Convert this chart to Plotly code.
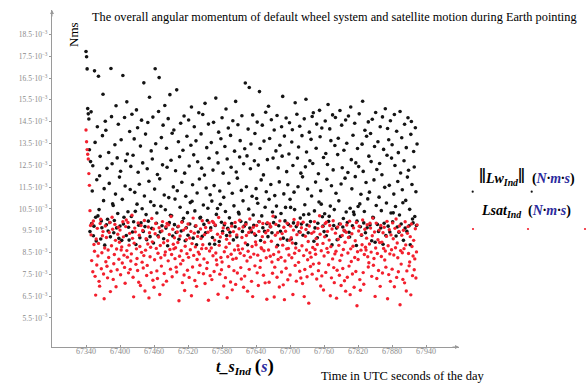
import plotly.graph_objects as go

# ---- data (values in units of 1e-3 N*m*s), one sample per second ----
t_start = 67340

lw_e3 = [
    17.72, 17.48, 16.92, 15.10, 14.86, 14.62, 13.21, 9.46, 12.67, 14.95, 9.83, 11.32, 12.48, 9.27, 9.71, 16.83, 13.55, 10.12, 9.03, 11.84,
    14.27, 10.18, 16.58, 10.47, 12.02, 12.91, 9.12, 9.95, 9.64, 13.86, 15.76, 10.88, 11.43, 8.84, 14.52, 14.11, 9.77, 12.36, 10.03, 9.49,
    13.09, 11.67, 9.88, 9.22, 16.94, 14.73, 12.57, 10.74, 10.66, 9.41, 9.97, 13.44, 11.18, 15.23, 9.63, 12.84, 10.29, 14.38, 9.15, 11.96,
    9.72, 12.23, 13.67, 9.06, 10.94, 16.62, 9.81, 10.12, 14.69, 11.55, 12.71, 9.28, 15.41, 13.02, 10.37, 9.66, 9.07, 14.05, 11.39, 12.45,
    10.15, 14.84, 9.44, 12.96, 9.91, 13.71, 11.26, 10.39, 8.87, 15.04, 10.72, 14.22, 12.18, 9.75, 11.63, 9.18, 13.38, 9.86, 14.57, 10.51,
    12.61, 9.47, 16.28, 11.09, 9.69, 13.93, 10.24, 9.09, 12.34, 14.46, 9.94, 11.77, 15.62, 9.23, 10.83, 13.16, 9.61, 12.79, 14.71, 8.94,
    10.66, 11.41, 16.93, 13.49, 9.84, 10.31, 12.08, 9.27, 14.97, 16.52, 11.88, 9.45, 10.62, 13.77, 9.73, 12.52, 14.34, 9.13, 11.14, 15.24,
    10.46, 9.62, 13.28, 12.41, 8.81, 14.64, 11.02, 9.87, 15.74, 10.21, 12.73, 10.19, 13.97, 9.26, 11.51, 14.12, 9.78, 10.95, 12.25, 9.42,
    15.96, 11.33, 9.68, 13.58, 9.11, 12.89, 10.58, 14.43, 9.49, 11.72, 9.92, 13.19, 10.07, 14.76, 12.14, 9.04, 11.08, 9.64, 13.83, 10.33,
    9.29, 14.58, 12.47, 9.81, 10.79, 13.42, 15.17, 10.85, 11.61, 9.16, 12.98, 14.27, 10.41, 9.71, 13.62, 8.86, 11.23, 12.66, 9.44, 14.91,
    11.87, 10.08, 10.12, 13.94, 12.37, 9.24, 14.83, 10.68, 9.79, 12.05, 15.34, 9.41, 11.46, 13.31, 9.97, 10.53, 14.39, 12.82, 8.89, 11.15,
    9.63, 13.54, 10.86, 9.19, 12.28, 14.47, 11.57, 8.88, 9.74, 15.58, 10.25, 13.07, 10.52, 12.61, 14.02, 9.01, 11.32, 10.71, 13.72, 9.89,
    14.68, 9.46, 12.14, 11.03, 9.77, 13.36, 10.38, 15.08, 9.28, 12.79, 9.61, 14.21, 11.68, 10.09, 9.43, 13.87, 12.41, 9.83, 11.22, 14.54,
    9.08, 10.64, 13.15, 9.68, 15.43, 12.19, 9.21, 11.91, 14.36, 10.34, 10.27, 12.88, 13.63, 9.93, 11.35, 14.77, 9.47, 10.87, 12.57, 9.71,
    13.26, 16.27, 9.86, 11.52, 12.93, 8.86, 14.16, 10.49, 16.07, 9.62, 12.34, 13.48, 9.44, 11.08, 14.81, 10.22, 9.75, 12.71, 13.96, 9.29,
    11.43, 10.98, 14.48, 10.76, 12.51, 9.91, 15.88, 13.27, 9.05, 11.83, 10.18, 14.34, 9.64, 12.06, 13.61, 9.47, 10.58, 14.93, 11.29, 9.82,
    12.76, 9.23, 15.21, 10.94, 13.73, 9.68, 11.62, 14.59, 9.41, 10.36, 12.83, 9.87, 14.12, 11.11, 10.13, 13.16, 10.63, 14.78, 8.83, 12.38,
    9.73, 11.74, 13.42, 9.48, 10.29, 14.27, 12.92, 15.66, 9.16, 11.19, 13.84, 9.95, 10.57, 14.67, 12.21, 9.07, 11.61, 9.79, 13.02, 14.45,
    10.94, 10.57, 9.12, 13.57, 14.13, 12.49, 9.86, 11.27, 10.47, 15.37, 8.91, 9.69, 14.84, 12.83, 11.52, 13.34, 9.45, 14.29, 10.08, 12.14,
    9.81, 13.86, 11.97, 9.29, 10.23, 14.63, 10.69, 12.43, 15.53, 13.11, 9.76, 11.41, 9.41, 10.26, 14.02, 12.71, 9.92, 13.69, 11.09, 14.74,
    12.58, 14.91, 9.02, 10.41, 9.63, 11.73, 13.28, 14.39, 9.18, 9.84, 12.11, 10.82, 15.02, 13.81, 11.33, 10.72, 14.21, 10.14, 9.71, 12.86,
    9.46, 10.28, 14.53, 13.04, 9.27, 11.86, 12.54, 15.29, 9.93, 10.16, 14.17, 10.63, 13.63, 11.56, 8.85, 14.81, 12.29, 9.74, 10.47, 13.41,
    14.69, 11.22, 9.62, 9.09, 12.99, 13.74, 10.87, 9.81, 15.01, 9.24, 11.64, 14.34, 12.39, 9.67, 10.06, 13.19, 9.49, 11.91, 14.58, 10.36,
    13.51, 9.88, 12.17, 14.76, 9.43, 9.21, 10.53, 15.17, 12.76, 11.42, 9.73, 13.88, 10.36, 10.24, 14.43, 11.98, 12.61, 8.82, 9.94, 13.27,
    10.61, 12.44, 14.86, 10.73, 9.68, 11.17, 9.29, 13.47, 15.44, 12.22, 9.86, 10.38, 14.11, 9.41, 11.71, 13.83, 9.64, 10.96, 14.49, 12.92,
    11.27, 9.76, 13.96, 12.67, 9.04, 14.61, 10.12, 10.09, 11.83, 13.36, 8.97, 14.92, 10.66, 12.31, 9.79, 13.58, 9.47, 11.04, 12.58, 14.27,
    9.63, 10.42, 12.07, 14.72, 8.88, 13.23, 9.84, 11.49, 15.09, 9.28, 10.77, 12.96, 14.19, 9.71, 13.67, 11.58, 9.44, 14.54, 10.31, 12.83,
    13.44, 9.91, 10.32, 11.18, 14.83, 12.49, 10.61, 9.26, 14.06, 9.67, 11.76, 13.08, 9.43, 10.22, 14.97, 12.15, 9.81, 13.76, 11.38, 10.78,
    9.06, 12.71, 14.38, 9.62, 10.89, 13.31, 9.47, 11.96, 14.68, 12.27, 9.73, 10.48, 8.86, 13.92, 14.51, 11.62, 10.04, 9.86, 13.13, 12.42,
    10.15, 14.22, 11.29, 9.74, 13.48,
]

lsat_e3 = [
    14.12, 13.58, 13.22, 13.01, 12.79, 12.12, 11.58, 10.42, 9.74, 9.31, 8.13, 9.82, 7.62, 9.95, 8.87, 8.56, 7.41, 6.55, 9.12, 7.93,
    9.61, 8.34, 8.92, 7.18, 6.96, 9.83, 10.03, 7.76, 8.49, 9.27, 9.46, 7.52, 6.38, 8.71, 9.72, 8.08, 9.19, 7.87, 7.34, 8.62,
    8.27, 9.42, 9.88, 6.71, 7.64, 8.81, 10.12, 9.57, 7.27, 7.99, 8.41, 9.79, 9.06, 6.93, 8.66, 7.71, 9.34, 9.66, 8.19, 8.97,
    9.53, 7.48, 8.62, 8.76, 8.02, 9.91, 9.22, 8.38, 7.82, 7.09, 9.69, 9.99, 8.59, 8.29, 9.88, 7.57, 8.84, 9.38, 7.73, 8.11,
    8.44, 10.21, 9.15, 7.37, 6.47, 8.93, 9.62, 9.45, 7.96, 8.67, 8.23, 7.68, 9.86, 7.14, 9.29, 8.78, 6.99, 9.74, 8.51, 8.06,
    9.51, 7.79, 8.36, 9.97, 6.74, 8.61, 9.13, 7.45, 7.91, 8.89, 9.67, 6.42, 9.41, 8.31, 8.74, 7.58, 10.06, 8.99, 7.23, 9.58,
    6.91, 8.17, 9.36, 9.83, 8.69, 7.66, 7.31, 8.47, 9.21, 9.64, 6.58, 8.82, 8.26, 7.88, 9.49, 9.92, 7.02, 8.95, 7.54, 8.39,
    8.53, 9.69, 7.19, 9.83, 9.04, 8.12, 9.77, 9.33, 8.64, 7.74, 10.15, 8.41, 7.39, 9.57, 8.88, 8.67, 9.18, 8.22, 8.72, 7.83,
    7.61, 9.44, 8.96, 9.71, 6.29, 8.33, 9.26, 7.98, 8.58, 9.89, 7.12, 8.14, 9.53, 7.47, 6.76, 8.79, 9.62, 9.09, 8.45, 7.69,
    9.81, 8.28, 7.36, 9.17, 8.63, 9.47, 6.52, 8.91, 7.84, 10.08, 8.37, 9.39, 7.22, 8.76, 9.73, 6.95, 8.18, 9.24, 8.52, 7.58,
    8.43, 7.92, 9.58, 9.14, 8.68, 9.96, 8.86, 7.53, 8.21, 9.32, 7.08, 9.65, 8.69, 7.77, 8.04, 9.43, 6.31, 9.87, 8.57, 7.44,
    9.52, 8.71, 7.26, 9.93, 8.35, 9.87, 7.63, 9.07, 9.76, 8.48, 8.16, 7.94, 9.34, 6.59, 10.11, 8.83, 7.51, 9.21, 8.27, 7.71,
    8.07, 9.38, 9.63, 6.97, 8.54, 9.84, 7.35, 8.74, 9.11, 6.43, 8.31, 9.55, 7.86, 8.92, 9.27, 7.15, 8.42, 9.71, 6.79, 8.19,
    9.46, 7.67, 8.62, 9.88, 7.04, 8.24, 9.31, 7.56, 8.81, 8.63, 9.59, 9.98, 8.47, 7.81, 7.29, 9.19, 8.67, 9.67, 6.91, 8.36,
    7.42, 8.94, 9.79, 9.28, 8.11, 6.73, 8.56, 9.42, 7.73, 10.04, 8.29, 9.53, 7.18, 8.78, 6.48, 9.66, 8.43, 9.36, 7.89, 8.99,
    8.86, 9.74, 7.57, 8.38, 6.99, 9.47, 9.92, 7.82, 8.13, 8.72, 8.67, 9.23, 9.83, 7.46, 8.58, 8.97, 7.11, 9.41, 8.26, 6.36,
    9.87, 9.51, 8.62, 7.14, 9.81, 8.33, 9.68, 9.02, 8.07, 7.55, 10.17, 8.41, 6.46, 7.83, 9.29, 9.79, 8.76, 7.37, 9.41, 8.18,
    8.53, 6.92, 9.95, 9.12, 8.28, 7.61, 9.37, 8.84, 7.02, 9.66, 6.34, 8.11, 9.48, 7.78, 8.67, 9.84, 7.25, 8.69, 8.39, 9.06,
    7.47, 9.71, 9.18, 8.26, 8.94, 6.58, 9.53, 10.02, 8.47, 7.91, 8.71, 7.19, 9.32, 9.77, 9.87, 8.05, 8.59, 7.64, 9.43, 7.33,
    9.64, 8.81, 7.08, 9.89, 8.36, 6.48, 7.72, 9.25, 9.56, 8.62, 7.39, 8.17, 9.01, 6.18, 9.72, 8.49, 7.86, 8.29, 9.38, 7.51,
    8.73, 7.97, 9.45, 9.92, 8.64, 8.42, 9.14, 7.29, 8.87, 9.61, 7.67, 8.01, 10.19, 9.34, 6.97, 8.58, 7.43, 9.69, 8.92, 6.78,
    8.34, 9.22, 9.83, 7.59, 9.89, 8.69, 9.47, 8.51, 7.94, 9.07, 9.74, 6.52, 8.77, 7.34, 9.58, 8.21, 9.96, 7.81, 7.12, 8.44,
    9.39, 8.56, 6.41, 7.69, 9.67, 9.11, 8.83, 7.46, 8.13, 9.81, 6.99, 8.38, 9.28, 7.77, 8.64, 9.52, 7.21, 8.97, 6.73, 9.43,
    9.76, 7.37, 8.48, 9.19, 7.88, 9.94, 6.57, 8.67, 8.09, 9.36, 7.52, 8.79, 9.63, 6.91, 8.27, 9.04, 7.63, 9.88, 6.06, 8.54,
    8.18, 9.49, 9.71, 7.26, 6.77, 8.61, 9.32, 8.86, 9.99, 7.58, 7.05, 8.41, 9.57, 8.74, 8.62, 9.16, 9.78, 8.31, 7.84, 8.03,
    8.89, 9.84, 9.62, 8.52, 7.41, 9.27, 10.08, 7.92, 8.23, 9.44, 6.49, 8.71, 9.85, 7.31, 8.46, 9.09, 7.68, 9.53, 8.96, 6.95,
    9.74, 8.32, 8.98, 7.56, 9.41, 8.69, 9.66, 8.16, 8.57, 7.83, 9.24, 9.93, 6.38, 8.81, 7.49, 9.55, 8.44, 7.18, 9.31, 8.63,
    7.74, 9.86, 9.13, 8.39, 6.93, 9.61, 8.72, 10.04, 7.36, 8.94, 8.26, 7.62, 9.47, 9.72, 6.11, 8.59, 7.97, 9.29, 8.49, 7.27,
    9.52, 8.68, 7.11, 9.91, 8.85, 6.74, 7.66, 9.38, 9.69, 8.46, 7.89, 8.07, 9.23, 6.56, 9.81, 8.78, 7.44, 8.34, 9.06, 7.71,
    8.21, 9.59, 7.33, 8.53, 9.77,
]

t_lw = [t_start + i for i in range(len(lw_e3))]
t_lsat = [t_start + i for i in range(len(lsat_e3))]

x_ticks = [67340, 67400, 67460, 67520, 67580, 67640, 67700, 67760, 67820, 67880, 67940]
y_ticks = [5.5, 6.5, 7.5, 8.5, 9.5, 10.5, 11.5, 12.5, 13.5, 14.5, 15.5, 16.5, 17.5, 18.5]
y_ticktext = [f"{v}·10<sup>−3</sup>" for v in y_ticks]

title_text = "The overall angular momentum of default wheel system and satellite motion during Earth pointing"
xnote_text = "Time in UTC seconds of the day"

BLACK = "#141414"
RED = "#f3202e"
BLUE = "#2b2b9e"
GREY = "#9a9a9a"
SERIF = "Liberation Serif"

fig = go.Figure()
fig.add_trace(go.Scatter(x=t_lw, y=lw_e3, mode="markers", name="Lw",
                         marker=dict(color=BLACK, size=3.6, line=dict(width=0)),
                         showlegend=False, cliponaxis=False))
fig.add_trace(go.Scatter(x=t_lsat, y=lsat_e3, mode="markers", name="Lsat",
                         marker=dict(color=RED, size=3.4, line=dict(width=0)),
                         showlegend=False, cliponaxis=False))

fig.update_layout(
    width=587, height=389,
    margin=dict(l=52, r=128, t=10, b=42),
    paper_bgcolor="white", plot_bgcolor="white",
    font=dict(family=SERIF, color="#000"),
)
fig.update_xaxes(range=[67280, 67998], showgrid=False, zeroline=False,
                 showline=True, linecolor=GREY, linewidth=1,
                 ticks="inside", ticklen=2, tickcolor=GREY,
                 ticklabelstandoff=-4,
                 tickvals=x_ticks, ticktext=[str(v) for v in x_ticks],
                 tickfont=dict(family=SERIF, size=8, color="#8a8a8a"))
fig.update_yaxes(range=[4.17, 19.62], showgrid=False, zeroline=False,
                 showline=True, linecolor=GREY, linewidth=1,
                 ticks="outside", ticklen=2, tickcolor=GREY,
                 tickvals=y_ticks, ticktext=y_ticktext,
                 tickfont=dict(family=SERIF, size=7.5, color="#8a8a8a"))

def px2paper(px, py):
    return (px - 52) / 407.0, (347 - py) / 337.0

def label(px, py, text, size, xanchor="center", angle=0):
    x, y = px2paper(px, py)
    fig.add_annotation(xref="paper", yref="paper", x=x, y=y,
                       xanchor=xanchor, yanchor="middle", textangle=angle,
                       text=text, showarrow=False,
                       font=dict(family=SERIF, size=size, color="#000"))

# axis arrows
fig.add_annotation(xref="paper", yref="paper", x=0, y=1, ax=0, ay=8, text="",
                   showarrow=True, arrowhead=2, arrowsize=0.8, arrowwidth=1, arrowcolor=GREY)
fig.add_annotation(xref="paper", yref="paper", x=1, y=0, ax=-8, ay=0, text="",
                   showarrow=True, arrowhead=2, arrowsize=0.8, arrowwidth=1, arrowcolor=GREY)

label(90, 17, title_text, 12.3, xanchor="left")
label(73, 35, "Nms", 13, angle=-90)
label(245, 366,
      ("<b><i>t_s</i></b><sub><b><i>Ind</i></b></sub> "
       f"<b><span style='font-size:19px'>(</span><i><span style='color:{BLUE}'>s</span></i>"
       "<span style='font-size:19px'>)</span></b>"), 16)
label(319, 376, xnote_text, 12.5, xanchor="left")

nms = (f"<b>(<i><span style='color:{BLUE}'>N</span>·<span style='color:{BLUE}'>m</span>"
       f"·<span style='color:{BLUE}'>s</span></i>)</b>")
bars = "<span style='font-size:20px'>‖</span>"
label(527, 176, f"<b><i>{bars}Lw<sub>Ind</sub>{bars}</i></b>  " + nms, 14)
label(526, 211, "<b><i>Lsat<sub>Ind</sub></i></b>  " + nms, 14)

# legend marker dots
def dot(px, py, color):
    x, y = px2paper(px, py)
    rx, ry = 1.1 / 407.0, 1.1 / 337.0
    fig.add_shape(type="circle", xref="paper", yref="paper",
                  x0=x - rx, x1=x + rx, y0=y - ry, y1=y + ry,
                  fillcolor=color, line=dict(width=0))

dot(472.7, 191.7, BLACK)
dot(531.7, 191.7, BLACK)
dot(473, 229, RED)
dot(528, 229, RED)
dot(585, 229, RED)

fig.write_html("out.html")
